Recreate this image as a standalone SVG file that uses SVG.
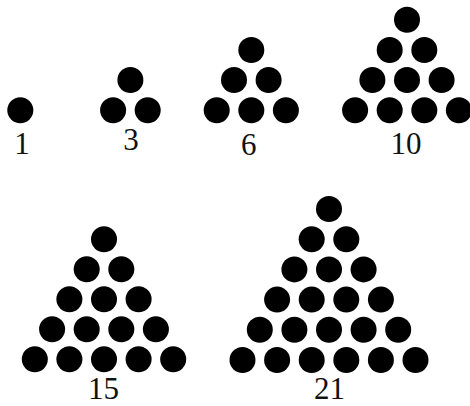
<svg xmlns="http://www.w3.org/2000/svg" width="470" height="406" viewBox="0 0 470 406">
<style>
.d{fill:#000}
.n{font-family:"Liberation Serif","DejaVu Serif",serif;font-size:31px;fill:#111;text-anchor:middle}
</style>
<rect width="470" height="406" fill="#fff"/>
<g id="t1">
<circle class="d" cx="20.3" cy="110.3" r="13"/>
<text class="n" x="22" y="154">1</text>
</g>
<g id="t3">
<circle class="d" cx="130.4" cy="80" r="13"/>
<circle class="d" cx="113.1" cy="110.3" r="13"/><circle class="d" cx="147.7" cy="110.3" r="13"/>
<text class="n" x="131" y="150">3</text>
</g>
<g id="t6">
<circle class="d" cx="251.3" cy="50" r="13"/>
<circle class="d" cx="234" cy="80" r="13"/><circle class="d" cx="268.6" cy="80" r="13"/>
<circle class="d" cx="216.7" cy="110.3" r="13"/><circle class="d" cx="251.3" cy="110.3" r="13"/><circle class="d" cx="285.9" cy="110.3" r="13"/>
<text class="n" x="248.7" y="155">6</text>
</g>
<g id="t10">
<circle class="d" cx="407" cy="19.8" r="13"/>
<circle class="d" cx="389.7" cy="50" r="13"/><circle class="d" cx="424.3" cy="50" r="13"/>
<circle class="d" cx="372.4" cy="80" r="13"/><circle class="d" cx="407" cy="80" r="13"/><circle class="d" cx="441.6" cy="80" r="13"/>
<circle class="d" cx="355.1" cy="110.3" r="13"/><circle class="d" cx="389.7" cy="110.3" r="13"/><circle class="d" cx="424.3" cy="110.3" r="13"/><circle class="d" cx="458.9" cy="110.3" r="13"/>
<text class="n" x="406" y="153.5">10</text>
</g>
<g id="t15">
<circle class="d" cx="104" cy="239.3" r="13"/>
<circle class="d" cx="86.7" cy="269.3" r="13"/><circle class="d" cx="121.3" cy="269.3" r="13"/>
<circle class="d" cx="69.4" cy="299.3" r="13"/><circle class="d" cx="104" cy="299.3" r="13"/><circle class="d" cx="138.6" cy="299.3" r="13"/>
<circle class="d" cx="52.1" cy="329.3" r="13"/><circle class="d" cx="86.7" cy="329.3" r="13"/><circle class="d" cx="121.3" cy="329.3" r="13"/><circle class="d" cx="155.9" cy="329.3" r="13"/>
<circle class="d" cx="34.8" cy="359.3" r="13"/><circle class="d" cx="69.4" cy="359.3" r="13"/><circle class="d" cx="104" cy="359.3" r="13"/><circle class="d" cx="138.6" cy="359.3" r="13"/><circle class="d" cx="173.2" cy="359.3" r="13"/>
<text class="n" x="103.5" y="399">15</text>
</g>
<g id="t21">
<circle class="d" cx="329" cy="209" r="13"/>
<circle class="d" cx="311.7" cy="239.2" r="13"/><circle class="d" cx="346.3" cy="239.2" r="13"/>
<circle class="d" cx="294.4" cy="269.4" r="13"/><circle class="d" cx="329" cy="269.4" r="13"/><circle class="d" cx="363.6" cy="269.4" r="13"/>
<circle class="d" cx="277.1" cy="299.6" r="13"/><circle class="d" cx="311.7" cy="299.6" r="13"/><circle class="d" cx="346.3" cy="299.6" r="13"/><circle class="d" cx="380.9" cy="299.6" r="13"/>
<circle class="d" cx="259.8" cy="329.8" r="13"/><circle class="d" cx="294.4" cy="329.8" r="13"/><circle class="d" cx="329" cy="329.8" r="13"/><circle class="d" cx="363.6" cy="329.8" r="13"/><circle class="d" cx="398.2" cy="329.8" r="13"/>
<circle class="d" cx="242.5" cy="360" r="13"/><circle class="d" cx="277.1" cy="360" r="13"/><circle class="d" cx="311.7" cy="360" r="13"/><circle class="d" cx="346.3" cy="360" r="13"/><circle class="d" cx="380.9" cy="360" r="13"/><circle class="d" cx="415.5" cy="360" r="13"/>
<text class="n" x="329.5" y="399">21</text>
</g>
<g id="connectors"/>
</svg>
